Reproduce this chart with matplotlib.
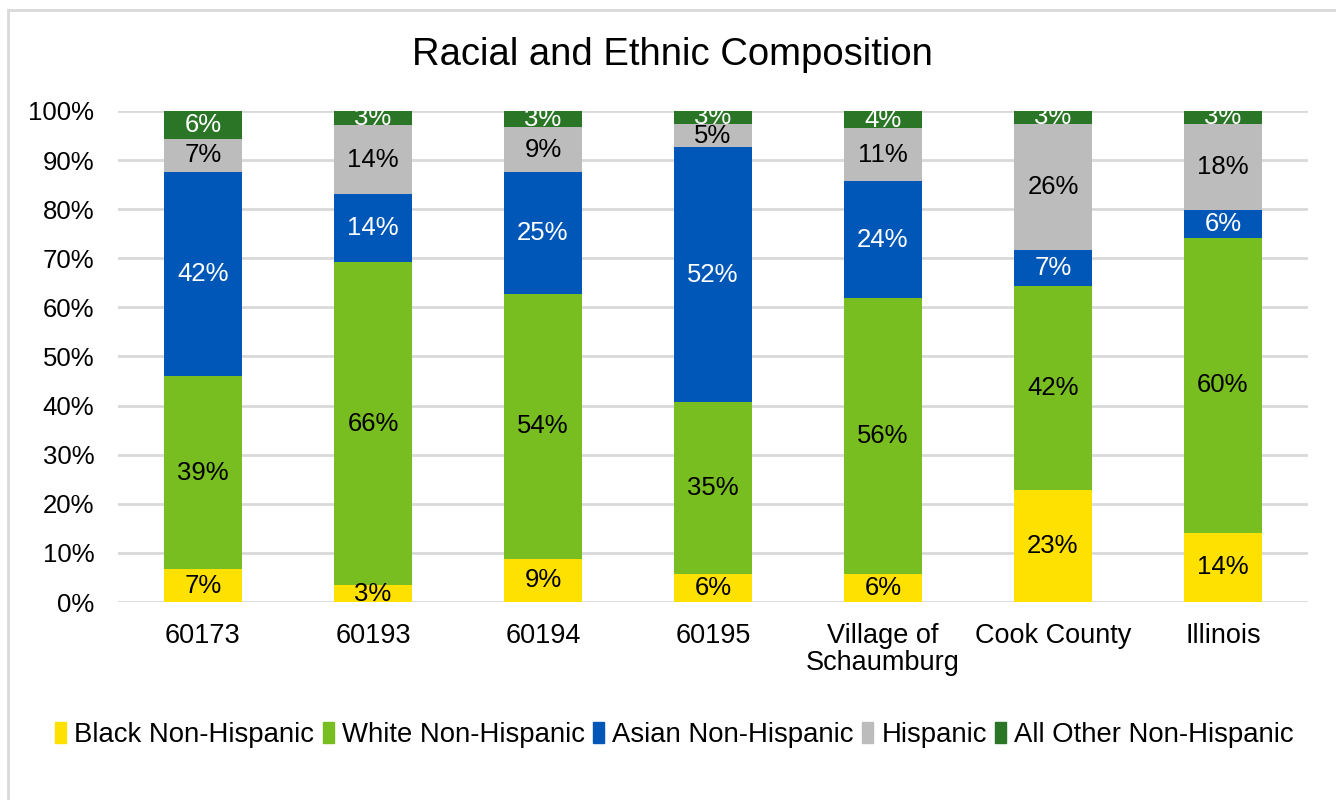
import matplotlib.pyplot as plt
import matplotlib.patches as mpatches
import numpy as np

plt.rcParams['font.family'] = ['Liberation Sans', 'DejaVu Sans']

areas = ['60173', '60193', '60194', '60195', 'Village of\nSchaumburg', 'Cook County', 'Illinois']
series = ['Black Non-Hispanic', 'White Non-Hispanic', 'Asian Non-Hispanic', 'Hispanic', 'All Other Non-Hispanic']

black = [6.7, 3.4, 8.8, 5.7, 5.7, 22.8, 14.1]
white = [39.3, 65.8, 53.9, 35.0, 56.2, 41.6, 60.0]
asian = [41.6, 13.9, 24.9, 51.9, 23.8, 7.3, 5.7]
hispanic = [6.7, 14.0, 9.1, 4.8, 10.8, 25.7, 17.6]
other = [5.7, 2.9, 3.3, 2.6, 3.5, 2.6, 2.6]

colors = ['#FFE100', '#78BE20', '#0057B8', '#BBBCBB', '#2A7526']
text_colors = ['black', 'black', 'white', 'black', 'white']

fig = plt.figure(figsize=(13.36, 8), dpi=100)
ax = fig.add_axes([0.0883, 0.2475, 0.8907, 0.6138])

# outer chart border
fig.patches.append(mpatches.Rectangle((0.006, -0.01), 1.2, 0.997, transform=fig.transFigure,
                                      fill=False, edgecolor='#D9D9D9', linewidth=2))

x = np.arange(len(areas))
bottom = np.zeros(len(areas))
for name, vals, c, tc in zip(series, [black, white, asian, hispanic, other], colors, text_colors):
    vals = np.array(vals)
    ax.bar(x, vals, width=0.46, bottom=bottom, color=c, label=name, zorder=3)
    for xi, b, v in zip(x, bottom, vals):
        ax.text(xi, b + v / 2, f'{v:.0f}%', ha='center', va='center', fontsize=18.5,
                color=tc, zorder=4)
    bottom += vals

ax.set_xlim(-0.5, len(areas) - 0.5)
ax.set_ylim(0, 100)
ax.set_yticks(range(0, 101, 10))
ax.set_yticklabels([f'{t}%' for t in range(0, 101, 10)], fontsize=18.5)
ax.set_xticks(x)
ax.set_xticklabels(areas, fontsize=19.5, linespacing=1.05)
ax.tick_params(length=0, pad=15)
ax.tick_params(axis='y', pad=17)
ax.grid(axis='y', color='#D9D9D9', linewidth=2, zorder=0)
for s in ax.spines.values():
    s.set_visible(False)

fig.text(0.503, 0.931, 'Racial and Ethnic Composition', ha='center', va='center', fontsize=27.5)

handles = [mpatches.Patch(color=c) for c in colors]
fig.legend(handles, series, loc='center', bbox_to_anchor=(0.505, 0.081), ncol=5, frameon=False,
           handlelength=0.4, handleheight=0.8, handletextpad=0.3, columnspacing=0.3,
           prop={'family': 'Liberation Sans', 'size': 19.8})

fig.savefig('out.png', dpi=100, facecolor='white')
